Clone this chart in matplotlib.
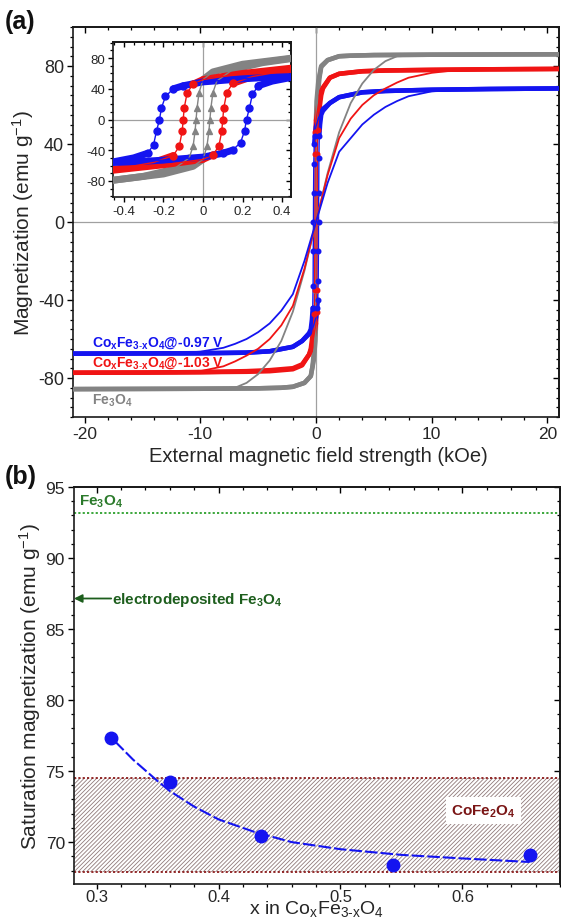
import numpy as np
import matplotlib
matplotlib.use('Agg')
import matplotlib.pyplot as plt
from matplotlib.ticker import MultipleLocator

plt.rcParams['font.family'] = ['Liberation Sans', 'DejaVu Sans']
plt.rcParams['mathtext.fontset'] = 'custom'
plt.rcParams['mathtext.rm'] = 'Liberation Sans'
plt.rcParams['mathtext.bf'] = 'Liberation Sans:bold'
plt.rcParams['mathtext.it'] = 'Liberation Sans:italic'
plt.rcParams['hatch.linewidth'] = 0.6
plt.rcParams['axes.unicode_minus'] = False

# ---------------- data: panel (a) hysteresis loops (kOe, emu/g) ----------------
blue_desc_H = [21, 15, 10, 6, 4, 2, 1.2, 0.6, 0.45, 0.3, 0.2, 0.1, 0.0, -0.1, -0.15, -0.19, -0.21, -0.22,
               -0.235, -0.25, -0.28, -0.35, -0.45, -0.6, -1.2, -2, -4, -6, -10, -15, -21]
blue_desc_M = [68.5, 68.2, 67.8, 67.2, 66.5, 64, 61, 58, 56, 54.5, 53, 51, 49, 44, 40, 30, 15, 0,
               -15, -33, -44, -50, -55, -57, -61, -64, -66.3, -67, -67.3, -67.4, -67.5]
blue_asc_H = [-21, -15, -10, -6, -4, -2, -1.2, -0.6, -0.45, -0.3, -0.2, -0.1, 0.0, 0.1, 0.15, 0.19, 0.21, 0.22,
              0.235, 0.25, 0.28, 0.35, 0.45, 0.6, 1.2, 2, 4, 6, 10, 15, 21]
blue_asc_M = [-67.5, -67.4, -67.3, -67, -66.3, -64, -61, -57.5, -56, -54.5, -53, -51, -49, -44, -40, -30, -15, 0,
              15, 33, 44, 50, 55, 57, 61, 64, 66.5, 67.2, 67.8, 68.2, 68.5]

red_desc_H = [21, 15, 10, 6, 4, 2, 1.2, 0.6, 0.45, 0.2, 0.0, -0.05, -0.08, -0.095, -0.10, -0.105, -0.12, -0.15,
              -0.25, -0.45, -0.6, -1.2, -2, -4, -6, -10, -15, -21]
red_desc_M = [78.5, 78.3, 78, 77.7, 77.3, 76, 74, 69, 67, 60, 52, 46, 35, 15, 0, -15, -35, -47,
              -56, -65, -68, -73.5, -75.5, -76.5, -76.8, -77, -77.2, -77.3]
red_asc_H = [-21, -15, -10, -6, -4, -2, -1.2, -0.6, -0.45, -0.2, 0.0, 0.05, 0.08, 0.095, 0.10, 0.105, 0.12, 0.15,
             0.25, 0.45, 0.6, 1.2, 2, 4, 6, 10, 15, 21]
red_asc_M = [-77.3, -77.2, -77, -76.5, -76, -75, -73, -68, -66, -59, -52, -46, -35, -15, 0, 15, 35, 47,
             56, 65, 68.5, 74, 76, 77.3, 77.7, 78, 78.3, 78.5]

gray_desc_H = [21, 15, 10, 5, 3, 2, 1, 0.45, 0.2, 0.05, 0.0, -0.02, -0.03, -0.035, -0.04, -0.05, -0.07, -0.15,
               -0.3, -0.45, -1, -2, -3, -5, -10, -21]
gray_desc_M = [86, 85.9, 85.8, 85.6, 85.3, 85, 83, 80, 72, 62, 52, 35, 15, 0, -15, -35, -50, -65,
               -74, -79, -82.5, -84.5, -85, -85.3, -85.5, -85.7]
gray_asc_H = [-21, -10, -5, -3, -2, -1, -0.45, -0.2, -0.05, 0.0, 0.02, 0.03, 0.035, 0.04, 0.05, 0.07, 0.15,
              0.3, 0.45, 1, 2, 3, 5, 10, 15, 21]
gray_asc_M = [-85.7, -85.5, -85.3, -85, -84.5, -82.5, -79, -71, -61, -52, -35, -15, 0, 15, 35, 50, 65,
              74, 79.5, 83, 85, 85.3, 85.6, 85.8, 85.9, 86]

# slowly saturating thin curves
gray_thin_H = [-21, -10, -7, -6, -5, -4, -3, -2, -1, 0, 1, 2, 3, 4, 5, 6, 7, 10, 21]
gray_thin_M = [-85.6, -85.5, -85, -82.5, -78, -71, -61, -46, -25, 0, 25, 46, 61, 71, 78, 82.5, 85, 85.5, 85.7]
thin_H = [-21, -12, -10, -8, -7, -6, -5, -4, -3, -2, -1, 0, 1, 2, 3, 4, 5, 6, 7, 8, 10, 12, 21]
red_thin_M = [-77.3, -77.5, -76.5, -74, -71.5, -68.5, -65, -60, -53, -43, -24, 0, 24, 43, 53, 60, 65, 68.5, 71.5,
              74, 76.5, 77.8, 78.3]
blue_thin_M = [-67.5, -67.2, -66.5, -64.5, -62.5, -60, -56.5, -52, -45.5, -37, -20, 0, 20, 36, 43, 50, 55, 59, 62,
               64.5, 67, 67.8, 68.3]

# ---------------- data: panel (b) ----------------
x_co = [0.312, 0.360, 0.435, 0.543, 0.655]
ms_co = [77.3, 74.2, 70.4, 68.4, 69.1]
fit_x = [0.315, 0.33, 0.35, 0.36, 0.38, 0.40, 0.43, 0.46, 0.50, 0.55, 0.60, 0.655]
fit_y = [77.1, 75.8, 74.3, 73.6, 72.5, 71.6, 70.7, 70.0, 69.5, 69.1, 68.85, 68.6]
ms_fe3o4_bulk = 93.2
ms_fe3o4_electro = 87.15
cofe2o4_range = (67.9, 74.5)

BLUE = '#1414f0'
RED = '#f01414'
GRAY = '#838383'
TXT = '#262626'

fig = plt.figure(figsize=(5.61, 9.2), dpi=100)
W, Hh = 561.0, 920.0


def style_axes(ax, xmaj, xmin, ymaj, ymin, xls, yls, tlen=4.5):
    ax.xaxis.set_major_locator(MultipleLocator(xmaj))
    ax.xaxis.set_minor_locator(MultipleLocator(xmin))
    ax.yaxis.set_major_locator(MultipleLocator(ymaj))
    ax.yaxis.set_minor_locator(MultipleLocator(ymin))
    ax.tick_params(which='major', direction='out', length=tlen, width=1.0, labelcolor=TXT, pad=2)
    ax.tick_params(axis='x', labelsize=xls)
    ax.tick_params(axis='y', labelsize=yls)
    ax.tick_params(which='minor', direction='out', length=tlen * 0.55, width=0.9)
    for s in ax.spines.values():
        s.set_linewidth(1.2)
        s.set_color('#1a1a1a')
    top = ax.secondary_xaxis('top')
    top.xaxis.set_major_locator(MultipleLocator(xmaj))
    top.xaxis.set_minor_locator(MultipleLocator(xmin))
    top.tick_params(which='major', direction='in', length=tlen, width=1.0, labeltop=False)
    top.tick_params(which='minor', direction='in', length=tlen * 0.55, width=0.9)
    top.spines['top'].set_linewidth(1.2)
    right = ax.secondary_yaxis('right')
    right.yaxis.set_major_locator(MultipleLocator(ymaj))
    right.yaxis.set_minor_locator(MultipleLocator(ymin))
    right.tick_params(which='major', direction='in', length=tlen, width=1.0, labelright=False)
    right.tick_params(which='minor', direction='in', length=tlen * 0.55, width=0.9)
    right.spines['right'].set_linewidth(1.2)


def draw_loops(ax, lw_band, ms):
    sets = [
        (gray_desc_H, gray_desc_M, gray_asc_H, gray_asc_M, GRAY, '^'),
        (red_desc_H, red_desc_M, red_asc_H, red_asc_M, RED, 'o'),
        (blue_desc_H, blue_desc_M, blue_asc_H, blue_asc_M, BLUE, 'o'),
    ]
    for dH, dM, aH, aM, c, mk in sets:
        for Hs, Ms in ((dH, dM), (aH, aM)):
            Hs = np.asarray(Hs, float)
            Ms = np.asarray(Ms, float)
            flat = np.abs(Ms) >= 40
            ax.plot(np.where(flat, Hs, np.nan), np.where(flat, Ms, np.nan), color=c, lw=lw_band,
                    solid_capstyle='round', zorder=3)
            ax.plot(Hs, Ms, color=c, lw=1.0, zorder=4)
            mask = (np.abs(Ms) < 48) & (np.abs(Hs) < 0.5)
            ax.plot(Hs[mask], Ms[mask], ls='none', marker=mk, ms=ms, color=c, zorder=5)


# ---------------- panel (a) ----------------
axa = fig.add_axes([73 / W, 1 - 418 / Hh, 486 / W, 390 / Hh])
axa.axhline(0, color='#a0a0a0', lw=0.9, zorder=1)
axa.axvline(0, color='#a0a0a0', lw=0.9, zorder=1)
draw_loops(axa, 3.3, 3.3)
axa.plot(gray_thin_H, gray_thin_M, color=GRAY, lw=1.3, zorder=6)
axa.plot(thin_H, red_thin_M, color=RED, lw=1.3, zorder=6)
axa.plot(thin_H, blue_thin_M, color=BLUE, lw=1.3, zorder=6)
axa.set_xlim(-21, 21)
axa.set_ylim(-100, 100)
style_axes(axa, 10, 2, 40, 5, 12.5, 13)
axa.set_xlabel('External magnetic field strength (kOe)', fontsize=14.5, color=TXT)
axa.xaxis.set_label_coords(0.504, -0.075)
axa.set_ylabel('Magnetization (emu g$^{\\mathregular{-1}}$)', fontsize=15, color=TXT)
axa.yaxis.set_label_coords(-0.077, 0.5)

axa.text(-19.4, -61.5, r'Co$_{\mathbf{x}}$Fe$_{\mathbf{3\text{-}x}}$O$_{\mathbf{4}}$@-0.97 V',
         color=BLUE, fontsize=10, fontweight='bold', va='center', ha='left', zorder=8)
axa.text(-19.4, -72, r'Co$_{\mathbf{x}}$Fe$_{\mathbf{3\text{-}x}}$O$_{\mathbf{4}}$@-1.03 V',
         color=RED, fontsize=10, fontweight='bold', va='center', ha='left', zorder=8)
axa.text(-19.4, -91, r'Fe$_{\mathbf{3}}$O$_{\mathbf{4}}$',
         color=GRAY, fontsize=10, fontweight='bold', va='center', ha='left', zorder=8)

fig.text(5 / W, 1 - 22 / Hh, '(a)', fontsize=18, fontweight='bold', va='center', ha='left', color='#111111')

# inset
axi = fig.add_axes([113 / W, 1 - 198 / Hh, 178 / W, 155 / Hh])
axi.axhline(0, color='#a0a0a0', lw=0.9, zorder=1)
axi.axvline(0, color='#a0a0a0', lw=0.9, zorder=1)
draw_loops(axi, 5.0, 5)
axi.set_xlim(-0.455, 0.445)
axi.set_ylim(-101, 101)
style_axes(axi, 0.2, 0.05, 40, 10, 9.5, 9.5, tlen=3.5)
axi.xaxis.set_major_formatter(matplotlib.ticker.FuncFormatter(lambda v, p: ('%g' % round(v, 2))))

# ---------------- panel (b) ----------------
axb = fig.add_axes([74 / W, 1 - 885 / Hh, 486 / W, 397 / Hh])
axb.axhspan(cofe2o4_range[0], cofe2o4_range[1], facecolor='white', edgecolor='#907a7a',
            hatch='////////', linewidth=0, zorder=1)
axb.axhline(cofe2o4_range[0], color='#8b1a1a', lw=1.3, ls=(0, (1.2, 1.2)), zorder=2)
axb.axhline(cofe2o4_range[1], color='#8b1a1a', lw=1.3, ls=(0, (1.2, 1.2)), zorder=2)
axb.axhline(ms_fe3o4_bulk, color='#2ca02c', lw=1.3, ls=(0, (1.2, 1.2)), zorder=2)
axb.plot(fit_x, fit_y, color=BLUE, lw=1.5, ls=(0, (6, 1.5)), zorder=3)
axb.plot(x_co, ms_co, ls='none', marker='o', ms=9, color=BLUE, zorder=4)
axb.set_xlim(0.2815, 0.68)
axb.set_ylim(67.05, 95)
style_axes(axb, 0.1, 0.02, 5, 1, 12, 12.5)
axb.tick_params(axis='x', which='major', length=3.5, pad=0)
axb.tick_params(axis='x', which='minor', length=2.2)
axb.set_xlabel(r'x in Co$_\mathregular{x}$Fe$_\mathregular{3\text{-}x}$O$_\mathregular{4}$', fontsize=14,
               color=TXT)
axb.xaxis.set_label_coords(0.5, -0.035)
axb.set_ylabel('Saturation magnetization (emu g$^{\\mathregular{-1}}$)', fontsize=15, color=TXT)
axb.yaxis.set_label_coords(-0.063, 0.5)

axb.text(0.2855, 94.05, r'Fe$_{\mathbf{3}}$O$_{\mathbf{4}}$', color='#2b7a2b', fontsize=11,
         fontweight='bold', va='center', ha='left')
axb.annotate('', xy=(0.2815, ms_fe3o4_electro), xytext=(0.312, ms_fe3o4_electro),
             arrowprops=dict(arrowstyle='-|>', color='#1d5e1d', lw=1.3, mutation_scale=12,
                             shrinkA=0, shrinkB=0))
axb.text(0.3125, ms_fe3o4_electro, r'electrodeposited Fe$_{\mathbf{3}}$O$_{\mathbf{4}}$',
         color='#1d5e1d', fontsize=11, fontweight='bold', va='center', ha='left')
axb.text(0.617, 72.2, r'CoFe$_{\mathbf{2}}$O$_{\mathbf{4}}$', color='#7a1515', fontsize=11,
         fontweight='bold', va='center', ha='center',
         bbox=dict(boxstyle='square,pad=0.35', facecolor='white', edgecolor='none'), zorder=5)

fig.text(5 / W, 1 - 477 / Hh, '(b)', fontsize=18, fontweight='bold', va='center', ha='left', color='#111111')

fig.savefig('out.png', dpi=100)
